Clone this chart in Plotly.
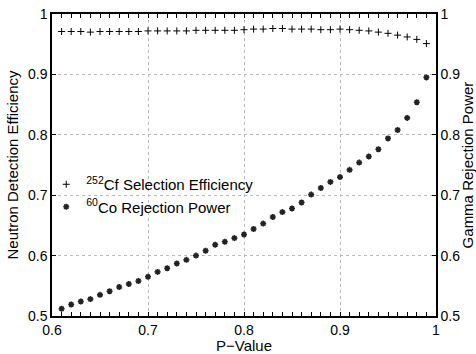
import plotly.graph_objects as go

p_values = [round(0.61 + 0.01 * i, 2) for i in range(39)]

cf_selection = [
    0.971, 0.971, 0.971, 0.970, 0.971, 0.971, 0.971, 0.971, 0.971, 0.972,
    0.972, 0.972, 0.972, 0.972, 0.973, 0.973, 0.973, 0.973, 0.973, 0.974,
    0.975, 0.975, 0.976, 0.976, 0.975, 0.975, 0.975, 0.974, 0.974, 0.975,
    0.974, 0.973, 0.972, 0.970, 0.968, 0.965, 0.962, 0.958, 0.951,
]

co_rejection = [
    0.512, 0.519, 0.524, 0.528, 0.535, 0.541, 0.548, 0.553, 0.558, 0.565,
    0.573, 0.579, 0.587, 0.593, 0.600, 0.608, 0.618, 0.623, 0.629, 0.635,
    0.644, 0.653, 0.664, 0.672, 0.678, 0.688, 0.701, 0.712, 0.722, 0.730,
    0.742, 0.754, 0.764, 0.776, 0.794, 0.808, 0.828, 0.854, 0.895,
]

x_ticks = [0.6, 0.7, 0.8, 0.9, 1.0]
x_tick_text = ["0.6", "0.7", "0.8", "0.9", "1"]
y_ticks = [0.5, 0.6, 0.7, 0.8, 0.9, 1.0]
y_tick_text = ["0.5", "0.6", "0.7", "0.8", "0.9", "1"]

FONT = "Liberation Sans, Arial, sans-serif"

fig = go.Figure()
fig.add_trace(go.Scatter(
    x=p_values, y=cf_selection, mode="markers",
    name="<sup>252</sup>Cf Selection Efficiency",
    marker=dict(symbol="cross-thin", size=5, color="black",
                line=dict(color="black", width=1)),
))
fig.add_trace(go.Scatter(
    x=p_values, y=co_rejection, mode="markers", yaxis="y2",
    name="<sup>60</sup>Co Rejection Power",
    marker=dict(symbol="asterisk-open", size=5, color="#222",
                line=dict(color="#222", width=1.6)),
))

fig.update_layout(
    width=476, height=354,
    margin=dict(l=52, r=40, t=14, b=38, autoexpand=False),
    paper_bgcolor="white", plot_bgcolor="white",
    font=dict(family=FONT, size=14, color="black"),
    showlegend=True,
    legend=dict(x=-0.015, y=0.49, xanchor="left", yanchor="top",
                bgcolor="rgba(0,0,0,0)", font=dict(size=15),
                tracegroupgap=0, itemwidth=30),
    xaxis=dict(
        range=[0.6, 1.0], tickvals=x_ticks, ticktext=x_tick_text,
        ticks="inside", ticklen=4, tickcolor="black",
        showline=True, linecolor="black", linewidth=1.5, mirror="allticks",
        showgrid=True, gridcolor="#bbbbbb", griddash="dot", gridwidth=1,
        zeroline=False, automargin=False,
        minor=dict(ticks="inside", dtick=0.01, ticklen=2, tickcolor="black", showgrid=False),
        title=dict(text="P\u2212Value", font=dict(size=15), standoff=0),
        tickfont=dict(size=14),
    ),
    yaxis=dict(
        range=[0.5, 1.0], tickvals=y_ticks, ticktext=y_tick_text,
        ticks="inside", ticklen=4, tickcolor="black",
        showline=True, linecolor="black", linewidth=1.5,
        showgrid=True, gridcolor="#bbbbbb", griddash="dot", gridwidth=1,
        zeroline=False, automargin=False,
        title=dict(text="Neutron Detection Efficiency", font=dict(size=15), standoff=6),
        tickfont=dict(size=14),
    ),
    yaxis2=dict(
        range=[0.5, 1.0], tickvals=y_ticks, ticktext=y_tick_text,
        overlaying="y", side="right",
        ticks="inside", ticklen=4, tickcolor="black",
        showline=True, linecolor="black", linewidth=1.5,
        showgrid=False, zeroline=False, automargin=False,
        title=dict(text="Gamma Rejection Power", font=dict(size=15), standoff=2),
        tickfont=dict(size=14),
    ),
)

fig.write_html("out.html")
